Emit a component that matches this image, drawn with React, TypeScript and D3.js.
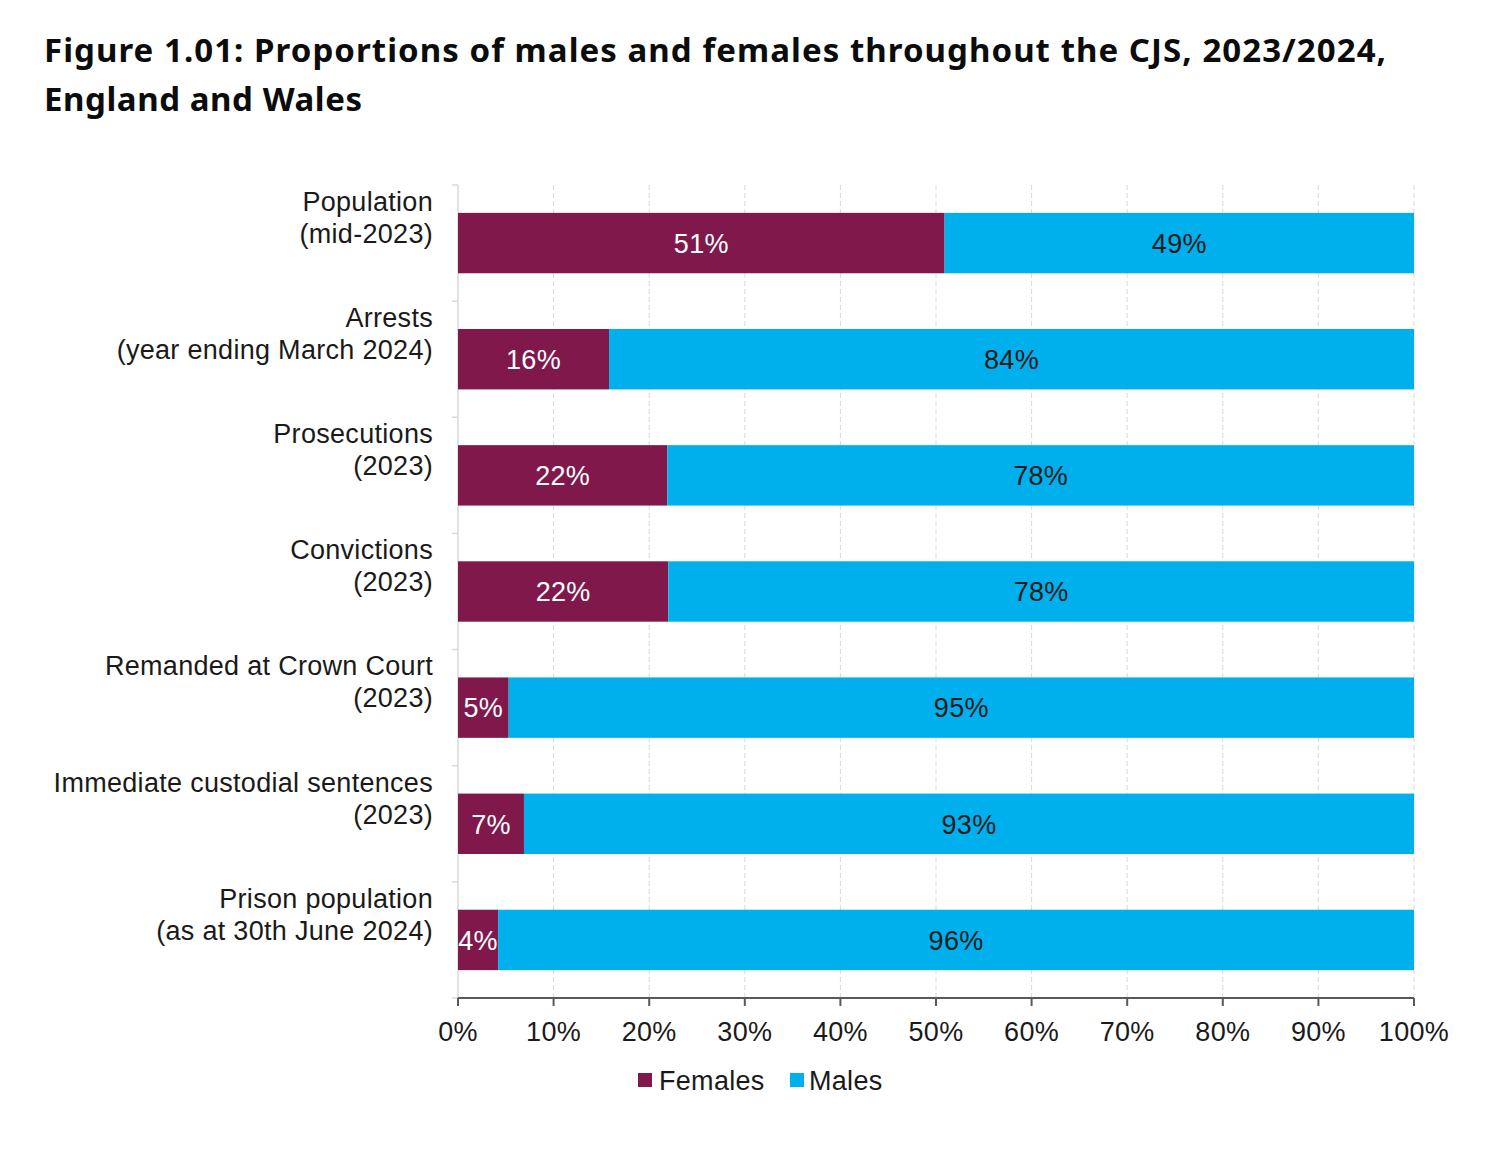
import React from 'react';
import * as d3 from 'd3';

const categories = [
  ['Population', '(mid-2023)'],
  ['Arrests', '(year ending March 2024)'],
  ['Prosecutions', '(2023)'],
  ['Convictions', '(2023)'],
  ['Remanded at Crown Court', '(2023)'],
  ['Immediate custodial sentences', '(2023)'],
  ['Prison population', '(as at 30th June 2024)'],
];
const females = [50.9, 15.8, 21.9, 22.0, 5.3, 6.9, 4.2];
const males = females.map(f => 100 - f);
const femaleLabels = ['51%', '16%', '22%', '22%', '5%', '7%', '4%'];
const maleLabels = ['49%', '84%', '78%', '78%', '95%', '93%', '96%'];
const xTicks = [0, 10, 20, 30, 40, 50, 60, 70, 80, 90, 100];

const FEMALE = '#80184C';
const MALE = '#00B0EC';
const FONT = '"Liberation Sans", Arial, sans-serif';
const FS = 27;

export default function App() {
  const W = 1508, H = 1156;
  const left = 458, right = 1414, top = 185, bottom = 998;

  const x = d3.scaleLinear().domain([0, 100]).range([left, right]);
  const y = d3.scaleBand<number>()
    .domain(d3.range(categories.length))
    .range([top, bottom])
    .paddingInner(0.48)
    .paddingOuter(0.24);
  const step = y.step();
  const bw = y.bandwidth();

  return (
    <svg width={W} height={H} style={{ position: 'absolute', left: 0, top: 0, background: '#fff' }}>
      <g fontFamily='"Noto Sans", sans-serif' fontWeight={700} fontSize={33} fill="#0b0c0c">
        <text x={44} y={62} textLength={1342} lengthAdjust="spacing">
          Figure 1.01: Proportions of males and females throughout the CJS, 2023/2024,
        </text>
        <text x={44} y={111} textLength={318} lengthAdjust="spacing">England and Wales</text>
      </g>

      {/* gridlines */}
      {xTicks.slice(1).map(t => (
        <line key={t} x1={x(t)} x2={x(t)} y1={top} y2={bottom}
          stroke="#d9d9d9" strokeWidth={1} strokeDasharray="5,3" />
      ))}

      {/* y axis */}
      <line x1={left} x2={left} y1={top} y2={bottom} stroke="#d9d9d9" strokeWidth={1.5} />
      {d3.range(categories.length + 1).map(i => (
        <line key={i} x1={left - 6} x2={left} y1={top + i * step} y2={top + i * step}
          stroke="#d9d9d9" strokeWidth={1.5} />
      ))}

      {/* bars */}
      {categories.map((c, i) => {
        const y0 = y(i)!;
        const cy = y0 + bw / 2;
        return (
          <g key={i} fontFamily={FONT} fontSize={FS} letterSpacing={0.3}>
            <rect x={x(0)} y={y0} width={x(females[i]) - x(0)} height={bw} fill={FEMALE} />
            <rect x={x(females[i])} y={y0} width={x(100) - x(females[i])} height={bw} fill={MALE} />
            <text x={(x(0) + x(females[i])) / 2} y={cy} dy="0.36em" textAnchor="middle" fill="#fff">
              {femaleLabels[i]}
            </text>
            <text x={(x(females[i]) + x(100)) / 2} y={cy} dy="0.36em" textAnchor="middle" fill="#1a1a1a">
              {maleLabels[i]}
            </text>
            <text x={433} y={cy - 42} dy="0.36em" textAnchor="end" fill="#1a1a1a">{c[0]}</text>
            <text x={433} y={cy - 10} dy="0.36em" textAnchor="end" fill="#1a1a1a">{c[1]}</text>
          </g>
        );
      })}

      {/* x axis */}
      <line x1={left} x2={right} y1={bottom} y2={bottom} stroke="#595959" strokeWidth={2} />
      {xTicks.map(t => (
        <g key={t}>
          <line x1={x(t)} x2={x(t)} y1={bottom} y2={bottom + 8} stroke="#595959" strokeWidth={2} />
          <text x={x(t)} y={1031} dy="0.36em" textAnchor="middle" fontFamily={FONT} fontSize={FS}
            letterSpacing={0.3} fill="#1a1a1a">
            {t}%
          </text>
        </g>
      ))}

      {/* legend */}
      <g fontFamily={FONT} fontSize={FS} letterSpacing={0.3} fill="#1a1a1a">
        <rect x={638} y={1073} width={14} height={14} fill={FEMALE} />
        <text x={659} y={1080} dy="0.36em">Females</text>
        <rect x={790} y={1073} width={14} height={14} fill={MALE} />
        <text x={809} y={1080} dy="0.36em">Males</text>
      </g>
    </svg>
  );
}
